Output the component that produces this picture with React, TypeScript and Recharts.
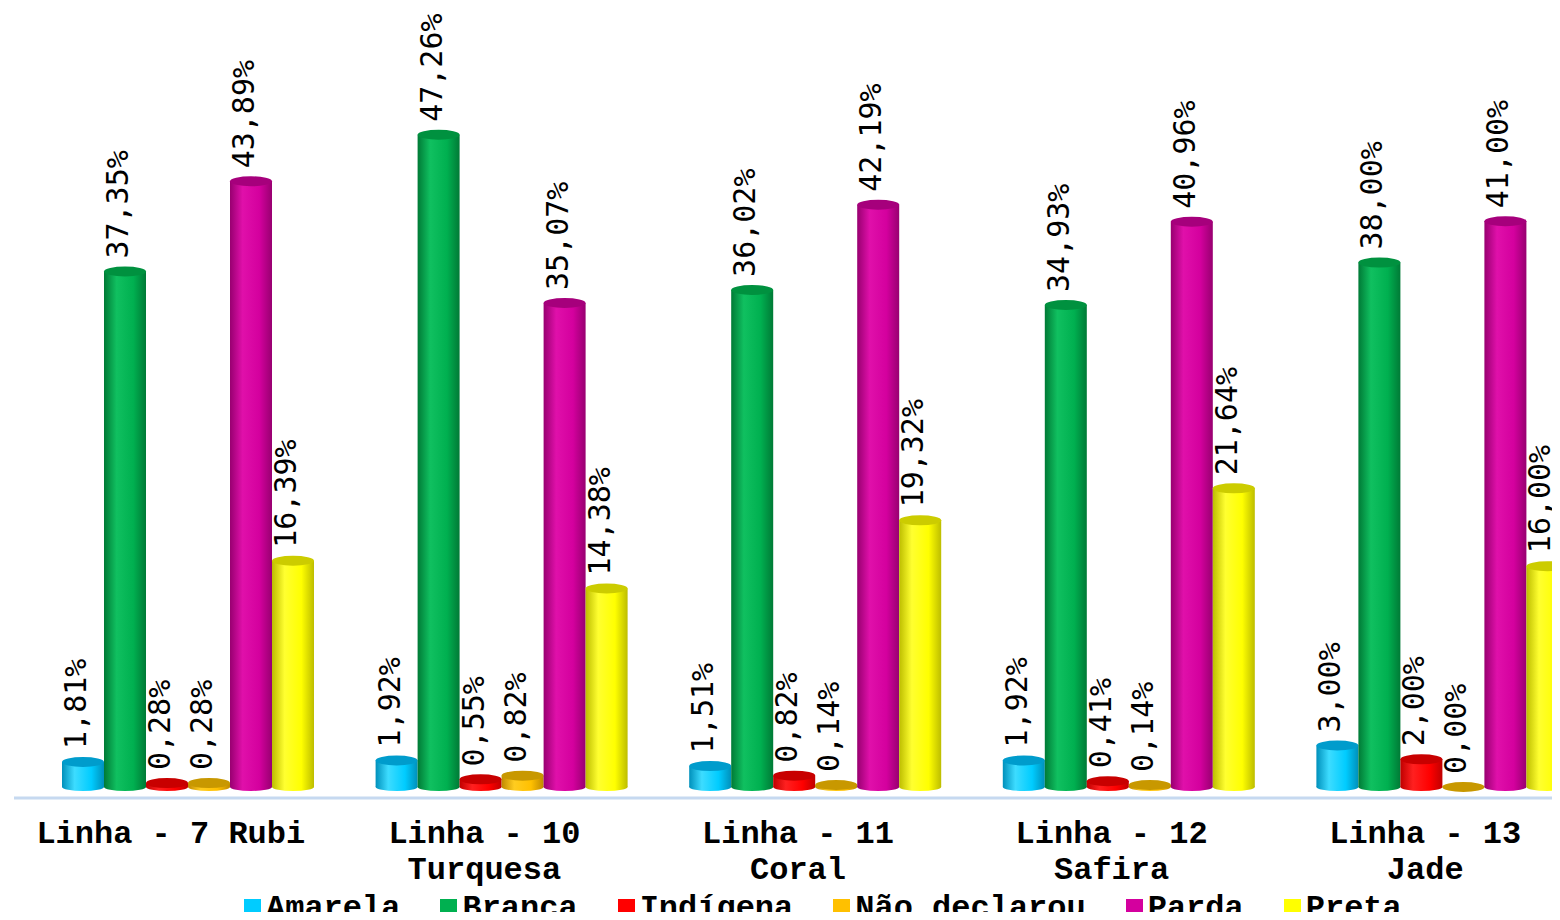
import { BarChart, Bar, XAxis, YAxis, LabelList, Legend } from "recharts";

// Linhas e percentuais por cor/raça
const categories = [
  "Linha - 7 Rubi",
  "Linha - 10 Turquesa",
  "Linha - 11 Coral",
  "Linha - 12 Safira",
  "Linha - 13 Jade",
];
const amarela = [1.81, 1.92, 1.51, 1.92, 3.0];
const branca = [37.35, 47.26, 36.02, 34.93, 38.0];
const indigena = [0.28, 0.55, 0.82, 0.41, 2.0];
const naoDeclarou = [0.28, 0.82, 0.14, 0.14, 0.0];
const parda = [43.89, 35.07, 42.19, 40.96, 41.0];
const preta = [16.39, 14.38, 19.32, 21.64, 16.0];

const series = [
  { key: "amarela", name: "Amarela", values: amarela, base: "#00ccff", light: "#3ddcff", dark: "#0090bb", top: "#009ccc" },
  { key: "branca", name: "Branca", values: branca, base: "#00b050", light: "#10c060", dark: "#007a36", top: "#00913f" },
  { key: "indigena", name: "Indígena", values: indigena, base: "#ff0000", light: "#ff2020", dark: "#c00000", top: "#c80000" },
  { key: "naoDeclarou", name: "Não declarou", values: naoDeclarou, base: "#ffc000", light: "#ffcc20", dark: "#c08a00", top: "#c89800" },
  { key: "parda", name: "Parda", values: parda, base: "#d4009e", light: "#e010aa", dark: "#980070", top: "#a6007c" },
  { key: "preta", name: "Preta", values: preta, base: "#ffff00", light: "#ffff30", dark: "#bdbd00", top: "#cccc00" },
];

const data = categories.map((name, i) => {
  const row: Record<string, string | number> = { name };
  series.forEach((s) => (row[s.key] = s.values[i]));
  return row;
});

const RY = 5;

const cylinder = (s: (typeof series)[number]) => (props: any) => {
  const { x, y, width, height } = props;
  const cx = x + width / 2;
  const rx = width / 2;
  const h = Math.max(height, 0);
  return (
    <g>
      <rect x={x} y={y} width={width} height={h} fill={`url(#grad-${s.key})`} />
      <ellipse cx={cx} cy={y + h} rx={rx} ry={RY - 1} fill={`url(#grad-${s.key})`} />
      <ellipse cx={cx} cy={y} rx={rx} ry={RY} fill={s.top} />
    </g>
  );
};

const fmt = (v: number) => v.toFixed(2).replace(".", ",") + "%";

const ValueLabel = (props: any) => {
  const { x, y, width, value } = props;
  const tx = x + width / 2 + 3;
  const ty = y - RY - 8;
  return (
    <text
      x={tx}
      y={ty}
      transform={`rotate(-90, ${tx}, ${ty})`}
      textAnchor="start"
      fontFamily="'DejaVu Sans Mono', monospace"
      fontSize={30}
      fill="#000"
    >
      {fmt(Number(value))}
    </text>
  );
};

// quebra simples por número de caracteres (fonte monoespaçada)
const wrap = (text: string, max: number) => {
  const lines: string[] = [];
  let cur = "";
  text.split(" ").forEach((w) => {
    const next = cur ? cur + " " + w : w;
    if (next.length > max && cur) {
      lines.push(cur);
      cur = w;
    } else cur = next;
  });
  if (cur) lines.push(cur);
  return lines;
};

const CategoryTick = (props: any) => {
  const { x, y, payload } = props;
  const lines = wrap(payload.value, 14);
  return (
    <g transform={`translate(${x - 18},${y})`}>
      {lines.map((l, i) => (
        <text
          key={i}
          x={0}
          y={45 + i * 36}
          textAnchor="middle"
          fontFamily="'Liberation Mono', 'Courier New', monospace"
          fontWeight="bold"
          fontSize={32}
          fill="#000"
        >
          {l}
        </text>
      ))}
    </g>
  );
};

const LegendContent = () => (
  <div
    style={{
      display: "flex",
      gap: 40,
      fontFamily: "'Liberation Mono', 'Courier New', monospace",
      fontWeight: "bold",
      fontSize: 32,
      lineHeight: "32px",
      whiteSpace: "nowrap",
      color: "#000",
    }}
  >
    {series.map((s) => (
      <div key={s.key} style={{ display: "flex", alignItems: "flex-start" }}>
        <span style={{ width: 17, height: 18, marginTop: 6, marginRight: 5, background: s.base, display: "inline-block" }} />
        <span>{s.name}</span>
      </div>
    ))}
  </div>
);

export default function App() {
  return (
    <div style={{ margin: -8, width: 1560, height: 920, overflow: "hidden", position: "relative", background: "#fff" }}>
      <BarChart
        width={1600}
        height={920}
        data={data}
        margin={{ top: 97, right: 0, bottom: 32, left: 14 }}
        barCategoryGap={30}
        barGap={0}
      >
        <defs>
          {series.map((s) => (
            <linearGradient key={s.key} id={`grad-${s.key}`} x1="0" y1="0" x2="1" y2="0">
              <stop offset="0%" stopColor={s.dark} />
              <stop offset="30%" stopColor={s.light} />
              <stop offset="70%" stopColor={s.base} />
              <stop offset="100%" stopColor={s.dark} />
            </linearGradient>
          ))}
        </defs>
        <XAxis
          dataKey="name"
          height={90}
          padding={{ left: 18, right: 0 }}
          axisLine={{ stroke: "#c6d9f0", strokeWidth: 3 }}
          tickLine={false}
          tickSize={0}
          tickMargin={0}
          interval={0}
          tick={<CategoryTick />}
        />
        <YAxis hide type="number" domain={[-0.8, 50]} allowDataOverflow />
        <Legend
          layout="vertical"
          align="center"
          verticalAlign="middle"
          content={<LegendContent />}
          wrapperStyle={{ left: 244, top: 893, width: "auto", height: "auto" }}
        />
        {series.map((s) => (
          <Bar
            key={s.key}
            dataKey={s.key}
            name={s.name}
            fill={s.base}
            shape={cylinder(s)}
            isAnimationActive={false}
          >
            <LabelList dataKey={s.key} content={<ValueLabel />} />
          </Bar>
        ))}
      </BarChart>
    </div>
  );
}
